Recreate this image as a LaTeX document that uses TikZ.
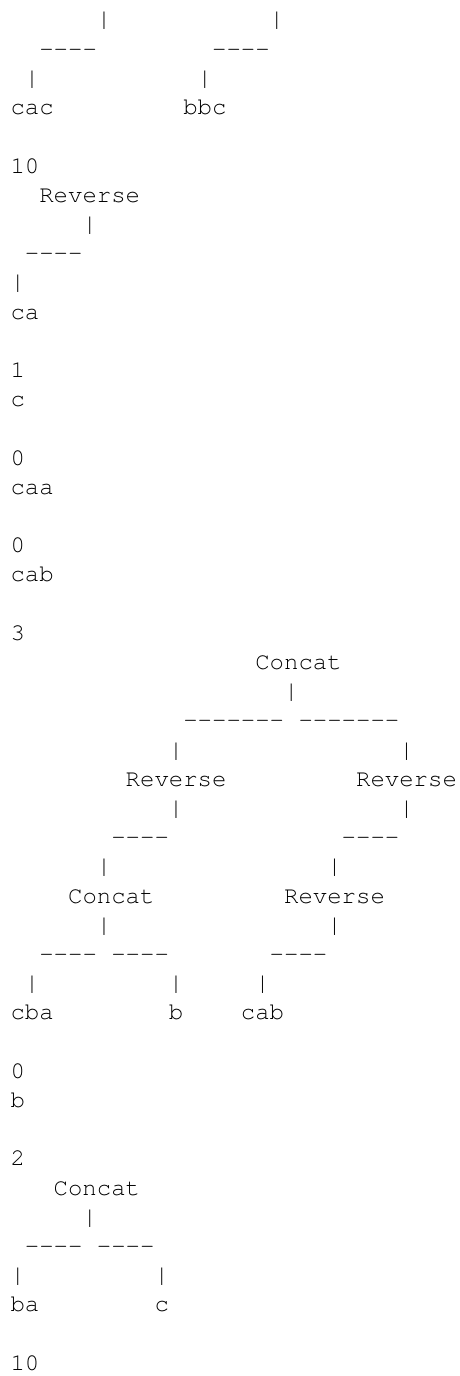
\documentclass[tikz,border=0pt]{standalone}
\usepackage{fontspec}
\IfFontExistsTF{TeX Gyre Cursor}{\setmonofont{TeX Gyre Cursor}}{\setmonofont{Liberation Mono}}
\begin{document}
\begin{tikzpicture}[x=14.4pt,y=-29.2pt,
  txt/.style={anchor=base west, inner sep=0pt, outer sep=0pt, text=black,
              font=\ttfamily\fontsize{24}{29}\selectfont}]
\useasboundingbox (-0.7292,0.0753) rectangle (31.146,47.199);
% first tree (continued from above)
\node[txt] (p1a) at (6,1) {|};
\node[txt] (p1b) at (18,1) {|};
\node[txt] (d2a) at (2,2) {----};
\node[txt] (d2b) at (14,2) {----};
\node[txt] (p3a) at (1,3) {|};
\node[txt] (p3b) at (13,3) {|};
\node[txt] (cac) at (0,4) {cac};
\node[txt] (bbc) at (12,4) {bbc};
\node[txt] (n6) at (0,6) {10};
% second tree
\node[txt] (rev7) at (2,7) {Reverse};
\node[txt] (p8) at (5,8) {|};
\node[txt] (d9) at (1,9) {----};
\node[txt] (p10) at (0,10) {|};
\node[txt] (ca) at (0,11) {ca};
\node[txt] (n13) at (0,13) {1};
\node[txt] (c14) at (0,14) {c};
\node[txt] (n16) at (0,16) {0};
\node[txt] (caa) at (0,17) {caa};
\node[txt] (n19) at (0,19) {0};
\node[txt] (cab20) at (0,20) {cab};
\node[txt] (n22) at (0,22) {3};
% third tree
\node[txt] (con23) at (17,23) {Concat};
\node[txt] (p24) at (19,24) {|};
\node[txt] (d25a) at (12,25) {-------};
\node[txt] (d25b) at (20,25) {-------};
\node[txt] (p26a) at (11,26) {|};
\node[txt] (p26b) at (27,26) {|};
\node[txt] (rev27a) at (8,27) {Reverse};
\node[txt] (rev27b) at (24,27) {Reverse};
\node[txt] (p28a) at (11,28) {|};
\node[txt] (p28b) at (27,28) {|};
\node[txt] (d29a) at (7,29) {----};
\node[txt] (d29b) at (23,29) {----};
\node[txt] (p30a) at (6,30) {|};
\node[txt] (p30b) at (22,30) {|};
\node[txt] (con31) at (4,31) {Concat};
\node[txt] (rev31) at (19,31) {Reverse};
\node[txt] (p32a) at (6,32) {|};
\node[txt] (p32b) at (22,32) {|};
\node[txt] (d33a) at (2,33) {----};
\node[txt] (d33b) at (7,33) {----};
\node[txt] (d33c) at (18,33) {----};
\node[txt] (p34a) at (1,34) {|};
\node[txt] (p34b) at (11,34) {|};
\node[txt] (p34c) at (17,34) {|};
\node[txt] (cba) at (0,35) {cba};
\node[txt] (b35) at (11,35) {b};
\node[txt] (cab35) at (16,35) {cab};
\node[txt] (n37) at (0,37) {0};
\node[txt] (b38) at (0,38) {b};
\node[txt] (n40) at (0,40) {2};
% fourth tree
\node[txt] (con41) at (3,41) {Concat};
\node[txt] (p42) at (5,42) {|};
\node[txt] (d43a) at (1,43) {----};
\node[txt] (d43b) at (6,43) {----};
\node[txt] (p44a) at (0,44) {|};
\node[txt] (p44b) at (10,44) {|};
\node[txt] (ba) at (0,45) {ba};
\node[txt] (c45) at (10,45) {c};
\node[txt] (n47) at (0,47) {10};
\end{tikzpicture}
\end{document}
